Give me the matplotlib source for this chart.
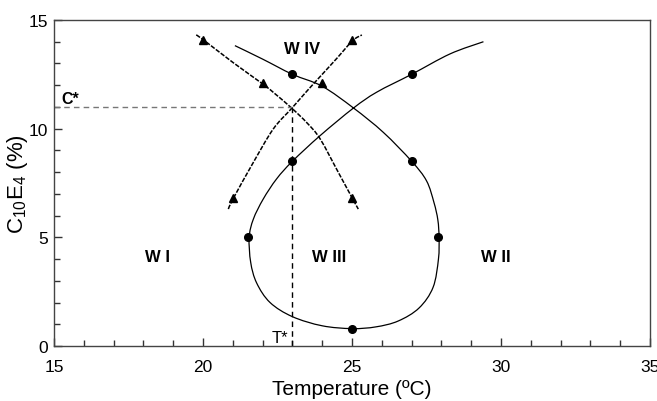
import matplotlib
matplotlib.use("Agg")
import matplotlib.pyplot as plt
import numpy as np
from matplotlib.ticker import MultipleLocator
from matplotlib.path import Path
from matplotlib.patches import PathPatch

plt.rcParams['font.family'] = ['Liberation Sans', 'DejaVu Sans']
plt.rcParams['mathtext.fontset'] = 'custom'
plt.rcParams['mathtext.rm'] = 'Liberation Sans'
plt.rcParams['mathtext.it'] = 'Liberation Sans'

# Solid curve (loop)
loop_x = [21.07, 22.0, 23.0, 24.0, 25.05, 26.05, 27.0, 27.5, 27.75, 27.88, 27.92, 27.9,
          27.72, 27.25, 26.55, 25.8, 25.0, 24.0, 23.0, 22.25, 21.8, 21.6, 21.55, 21.69,
          22.02, 22.47, 23.0, 23.93, 25.05, 25.83, 27.0, 28.29, 29.41]
loop_y = [13.82, 13.2, 12.5, 11.95, 10.95, 9.83, 8.5, 7.6, 6.6, 5.8, 5.0, 4.0,
          2.7, 1.75, 1.15, 0.88, 0.8, 0.93, 1.35, 2.0, 2.9, 3.85, 5.0, 5.84,
          6.76, 7.69, 8.5, 9.68, 10.95, 11.68, 12.5, 13.44, 14.0]

# Dashed curve A (descending)
curveA_x = [19.77, 20.0, 21.0, 22.0, 22.42, 22.98, 23.5, 23.93, 24.54, 24.99, 25.21]
curveA_y = [14.31, 14.1, 13.05, 12.06, 11.6, 10.94, 10.25, 9.53, 7.99, 6.85, 6.3]
# Dashed curve B (ascending)
curveB_x = [20.85, 21.02, 21.69, 22.36, 22.98, 23.5, 24.0, 24.5, 25.02, 25.33]
curveB_y = [6.3, 6.8, 8.45, 9.99, 10.94, 11.75, 12.5, 13.25, 14.05, 14.31]

# Markers
circ_x = [23, 27, 23, 27, 21.5, 27.9, 25]
circ_y = [12.5, 12.5, 8.5, 8.5, 5.0, 5.0, 0.8]
tri_x = [20, 22, 24, 25, 21, 25]
tri_y = [14.1, 12.1, 12.1, 14.1, 6.8, 6.8]

# Critical point
T_star = 23.0
C_star = 11.0

regions = ["W I", "W III", "W II", "W IV"]
region_x = [18.48, 24.23, 29.83, 23.34]
region_y = [4.12, 4.12, 4.12, 13.7]


def smooth_curve(ax, xs, ys, **kw):
    """Draw a smooth (Catmull-Rom as cubic Bezier) curve through the given data points."""
    P = np.column_stack([xs, ys]).astype(float)
    n = len(P)
    verts = [P[0]]
    codes = [Path.MOVETO]
    for i in range(n - 1):
        p0 = P[i - 1] if i > 0 else P[i]
        p1 = P[i]
        p2 = P[i + 1]
        p3 = P[i + 2] if i + 2 < n else P[i + 1]
        c1 = p1 + (p2 - p0) / 6.0
        c2 = p2 - (p3 - p1) / 6.0
        verts += [c1, c2, p2]
        codes += [Path.CURVE4] * 3
    patch = PathPatch(Path(verts, codes), fill=False, transform=ax.transData, **kw)
    ax.add_patch(patch)


fig = plt.figure(figsize=(6.57, 4.02), dpi=100)
ax = fig.add_axes([0.0822, 0.1368, 0.9072, 0.811])

smooth_curve(ax, loop_x, loop_y, edgecolor='black', lw=0.9)
smooth_curve(ax, curveA_x, curveA_y, edgecolor='black', lw=1.1, ls=(0, (3, 1)))
smooth_curve(ax, curveB_x, curveB_y, edgecolor='black', lw=1.1, ls=(0, (3, 1)))
ax.plot(circ_x, circ_y, 'o', color='black', ms=5.5, zorder=5)
ax.plot(tri_x, tri_y, '^', color='black', ms=6, zorder=5)

ax.plot([15, T_star], [C_star, C_star], color='#777777', lw=1.0, ls=(0, (4, 3)))
ax.plot([T_star, T_star], [0, C_star], color='black', lw=1.0, ls=(0, (4, 3)))

for r, x, y in zip(regions, region_x, region_y):
    ax.text(x, y, r, ha='center', va='center', fontsize=12, fontweight='bold')
ax.text(15.26, 11.4, "C*", ha='left', va='center', fontsize=11.5, fontweight='bold')
ax.text(22.85, 0.41, "T*", ha='right', va='center', fontsize=12)

ax.set_xlim(15, 35)
ax.set_ylim(0, 15)
ax.xaxis.set_major_locator(MultipleLocator(5))
ax.xaxis.set_minor_locator(MultipleLocator(1))
ax.yaxis.set_major_locator(MultipleLocator(5))
ax.yaxis.set_minor_locator(MultipleLocator(1))
ax.tick_params(which='both', direction='in', top=False, right=False, labelsize=12.5,
               colors='#333333', labelcolor='black')
ax.tick_params(which='major', length=6, width=1)
ax.tick_params(which='minor', length=4, width=1)
ax.tick_params(axis='x', which='both', pad=9)
ax.tick_params(axis='y', which='both', pad=4)
for s in ax.spines.values():
    s.set_color('#444444')
    s.set_linewidth(1.0)

ax.set_xlabel("Temperature (ºC)", fontsize=15)
ax.xaxis.set_label_coords(0.5, -0.102)
ax.set_ylabel(r"C$_{10}$E$_4$ (%)", fontsize=16)
ax.yaxis.set_label_coords(-0.04, 0.5)

fig.savefig("out.png", dpi=100)
